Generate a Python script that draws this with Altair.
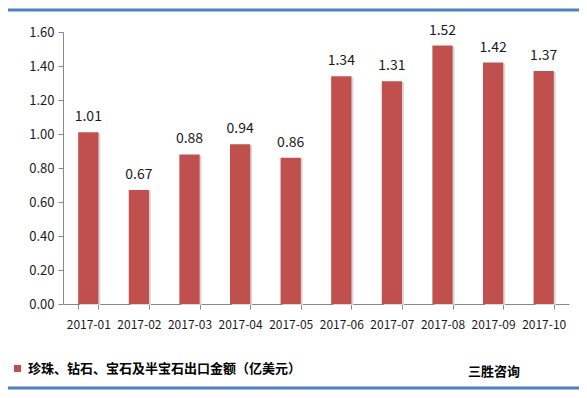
import altair as alt
import pandas as pd

months = ["2017-01", "2017-02", "2017-03", "2017-04", "2017-05",
          "2017-06", "2017-07", "2017-08", "2017-09", "2017-10"]
values = [1.01, 0.67, 0.88, 0.94, 0.86, 1.34, 1.31, 1.52, 1.42, 1.37]
series_name = "珍珠、钻石、宝石及半宝石出口金额（亿美元）"
source_note = "三胜咨询"
y_ticks = [0, 0.2, 0.4, 0.6, 0.8, 1.0, 1.2, 1.4, 1.6]

df = pd.DataFrame({"month": months, "value": values, "series": [series_name] * len(months)})

FONT = "Noto Sans CJK SC"
W, H = 506, 272

x_enc = alt.X("month:N", sort=months,
              scale=alt.Scale(paddingInner=0.6, paddingOuter=0.3),
              axis=alt.Axis(title=None, labelAngle=0, labelFontSize=12, labelColor="#1a1a1a",
                            labelFont=FONT, labelPadding=10, tickBand="extent", tickSize=5,
                            tickColor="#888888", domainColor="#888888"))
y_enc = alt.Y("value:Q", scale=alt.Scale(domain=[0, 1.6], nice=False),
              axis=alt.Axis(title=None, values=y_ticks, format=".2f", grid=False,
                            labelFontSize=13, labelColor="#1a1a1a", labelFont=FONT,
                            tickSize=5, tickColor="#888888", domainColor="#888888",
                            labelPadding=4))

base = alt.Chart(df)

shadow = base.mark_bar(color="#d8d8d8", xOffset=2, yOffset=1).encode(
    x=x_enc, y=y_enc)

bars = base.mark_bar().encode(
    x=x_enc, y=y_enc,
    color=alt.Color("series:N",
                    scale=alt.Scale(range=["#C0504D"]),
                    legend=alt.Legend(title=None, orient="none", legendX=-52, legendY=330,
                                      symbolType="square", symbolSize=50,
                                      labelFontSize=13, labelFont=FONT, labelColor="#000000",
                                      labelFontWeight="bold", labelLimit=400)))

labels = base.mark_text(baseline="bottom", dy=-8, fontSize=14, font=FONT, color="#1a1a1a").encode(
    x=x_enc, y=y_enc, text=alt.Text("value:Q", format=".2f"))

note = alt.Chart(pd.DataFrame({"t": [source_note]})).mark_text(
    fontSize=13, font=FONT, fontWeight="bold", color="#000000", align="left", baseline="middle"
).encode(x=alt.value(405), y=alt.value(340), text="t:N")

top_line = alt.Chart(pd.DataFrame({"a": [0]})).mark_rule(color="#4F81BD", strokeWidth=3).encode(
    x=alt.value(-55), x2=alt.value(W + 10), y=alt.value(-22))
bottom_line = alt.Chart(pd.DataFrame({"a": [0]})).mark_rule(color="#4F81BD", strokeWidth=3).encode(
    x=alt.value(-55), x2=alt.value(W + 10), y=alt.value(H + 84))

chart = alt.layer(top_line, bottom_line, shadow, bars, labels, note).properties(
    width=W, height=H,
    padding={"left": 55, "top": 24, "right": 10, "bottom": 86},
    autosize=alt.AutoSizeParams(type="none"),
    background="white",
).configure_view(stroke=None)

chart.save("out.html", embed_options={"renderer": "svg", "actions": False})
